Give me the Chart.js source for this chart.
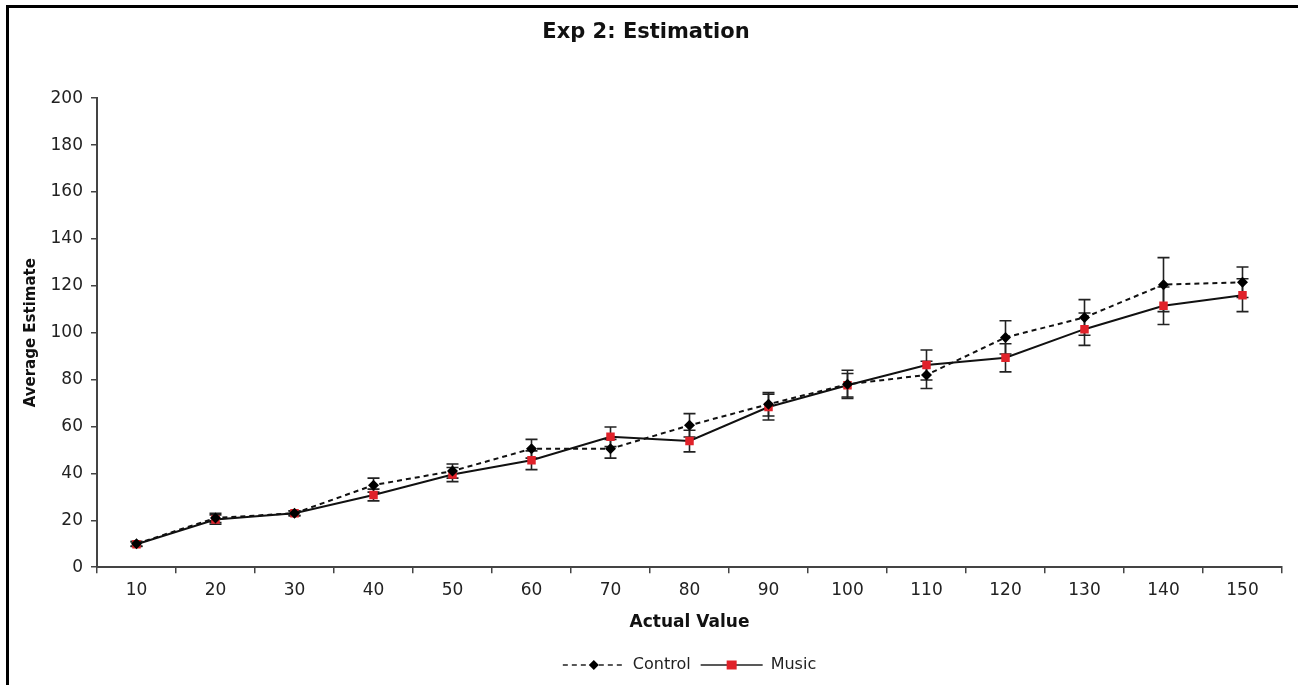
<!DOCTYPE html>
<html>
<head>
<meta charset="utf-8">
<script src="https://cdn.jsdelivr.net/npm/chart.js@4.4.1/dist/chart.umd.min.js"></script>
<style>
  html, body { margin: 0; padding: 0; background: #fff; }
  #wrap { position: relative; width: 1299px; height: 685px; }
  #c { position: absolute; left: 0; top: 0; }
  #frame { position: absolute; left: 6px; top: 5px; width: 1292px; height: 680px;
           border-left: 3px solid #000; border-top: 3px solid #000; box-sizing: border-box; pointer-events: none; }
</style>
</head>
<body>
<div id="wrap">
  <canvas id="c" width="1299" height="685"></canvas>
  <div id="frame"></div>
</div>
<script>
const categories = ['10','20','30','40','50','60','70','80','90','100','110','120','130','140','150'];
const controlValues = [10, 21, 23, 35, 41, 50.5, 50.5, 60.5, 69.5, 78, 82, 98, 106.5, 120.5, 121.5];
const controlErrors = [1, 2, 1, 3, 3, 4, 4, 5, 5, 6, 5.8, 7.1, 7.6, 11.5, 6.5];
const musicValues = [9.8, 20.3, 23, 30.8, 39.5, 45.6, 55.6, 53.8, 68.3, 77.6, 86.2, 89.3, 101.5, 111.5, 116];
const musicErrors = [1, 2, 1, 2.5, 3, 4, 4.2, 4.6, 5.5, 5, 6.4, 6, 6.9, 8, 7];
const yTicks = [0, 20, 40, 60, 80, 100, 120, 140, 160, 180, 200];

const FONT = "'DejaVu Sans', Verdana, sans-serif";
const MUSIC_RED = '#e0222a';

const errorBars = {
  id: 'errorBars',
  beforeDatasetsDraw(chart) {
    const ctx = chart.ctx;
    const y = chart.scales.y;
    ctx.save();
    ctx.strokeStyle = '#222';
    ctx.lineWidth = 1.6;
    chart.data.datasets.forEach((ds, di) => {
      const meta = chart.getDatasetMeta(di);
      ds.errors.forEach((e, i) => {
        const pt = meta.data[i];
        const v = ds.data[i];
        const yt = y.getPixelForValue(v + e);
        const yb = y.getPixelForValue(v - e);
        const x = pt.x;
        ctx.beginPath();
        ctx.moveTo(x, yt); ctx.lineTo(x, yb);
        ctx.moveTo(x - 6, yt); ctx.lineTo(x + 6, yt);
        ctx.moveTo(x - 6, yb); ctx.lineTo(x + 6, yb);
        ctx.stroke();
      });
    });
    ctx.restore();
  }
};

const legendSymbols = {
  id: 'legendSymbols',
  afterDraw(chart) {
    const lg = chart.legend;
    if (!lg || !lg.legendHitBoxes) return;
    const ctx = chart.ctx;
    ctx.save();
    chart.data.datasets.forEach((ds, i) => {
      const hb = lg.legendHitBoxes[i];
      const bw = lg.options.labels.boxWidth;
      const cy = hb.top + hb.height / 2;
      const x0 = hb.left, x1 = hb.left + bw;
      ctx.strokeStyle = '#222';
      ctx.lineWidth = 1.5;
      ctx.setLineDash(ds.borderDash || []);
      ctx.beginPath(); ctx.moveTo(x0, cy); ctx.lineTo(x1, cy); ctx.stroke();
      ctx.setLineDash([]);
      const mx = (x0 + x1) / 2;
      ctx.fillStyle = ds.pointBackgroundColor;
      ctx.beginPath();
      if (ds.pointStyle === 'rectRot') {
        ctx.moveTo(mx, cy - 5); ctx.lineTo(mx + 5, cy); ctx.lineTo(mx, cy + 5); ctx.lineTo(mx - 5, cy);
        ctx.closePath();
      } else {
        ctx.rect(mx - 5, cy - 4.5, 10, 9);
      }
      ctx.fill();
    });
    ctx.restore();
  }
};

new Chart(document.getElementById('c'), {
  type: 'line',
  data: {
    labels: categories,
    datasets: [
      {
        label: 'Control',
        data: controlValues,
        errors: controlErrors,
        borderColor: '#111',
        borderWidth: 2,
        borderDash: [5, 4],
        pointStyle: 'rectRot',
        pointRadius: 5.5,
        pointBackgroundColor: '#000',
        pointBorderColor: '#000',
        pointBorderWidth: 0,
        fill: false,
        tension: 0
      },
      {
        label: 'Music',
        data: musicValues,
        errors: musicErrors,
        borderColor: '#111',
        borderWidth: 2,
        pointStyle: 'rect',
        pointRadius: 6,
        pointBackgroundColor: MUSIC_RED,
        pointBorderColor: MUSIC_RED,
        pointBorderWidth: 0,
        fill: false,
        tension: 0
      }
    ]
  },
  options: {
    responsive: false,
    animation: false,
    layout: { padding: { left: 10, right: 17, top: 0, bottom: 2 } },
    plugins: {
      title: {
        display: true,
        text: 'Exp 2: Estimation',
        font: { family: FONT, size: 21, weight: 'bold' },
        color: '#111',
        padding: { top: 20, bottom: 53 }
      },
      legend: {
        display: true,
        position: 'bottom',
        fullSize: false,
        labels: {
          font: { family: FONT, size: 16 },
          color: '#222',
          boxWidth: 62,
          boxHeight: 10,
          padding: 10,
          generateLabels(chart) {
            return chart.data.datasets.map((ds, i) => ({
              text: ds.label,
              fillStyle: 'rgba(0,0,0,0)',
              strokeStyle: 'rgba(0,0,0,0)',
              lineWidth: 0,
              hidden: false,
              datasetIndex: i,
              fontColor: '#222'
            }));
          }
        }
      },
      tooltip: { enabled: false }
    },
    scales: {
      x: {
        type: 'category',
        offset: true,
        grid: { offset: true, drawOnChartArea: false, tickLength: 6, color: '#444', lineWidth: 1.5 },
        border: { color: '#444', width: 2 },
        ticks: { font: { family: FONT, size: 17 }, color: '#222', padding: 7, maxRotation: 0, autoSkip: false },
        title: { display: true, text: 'Actual Value', font: { family: FONT, size: 17, weight: 'bold' }, color: '#111', padding: { top: 5, bottom: 14 } }
      },
      y: {
        min: 0,
        max: 200,
        afterBuildTicks(scale) { scale.ticks = yTicks.map(v => ({ value: v })); },
        afterFit(scale) { scale.width = 87; },
        grid: { drawOnChartArea: false, tickLength: 6, color: '#444', lineWidth: 1.5 },
        border: { color: '#444', width: 2 },
        ticks: { font: { family: FONT, size: 17 }, color: '#222', padding: 8 },
        title: { display: true, text: 'Average Estimate', font: { family: FONT, size: 15, weight: 'bold' }, color: '#111', padding: { top: 12, bottom: 0 } }
      }
    }
  },
  plugins: [errorBars, legendSymbols]
});
</script>
</body>
</html>
